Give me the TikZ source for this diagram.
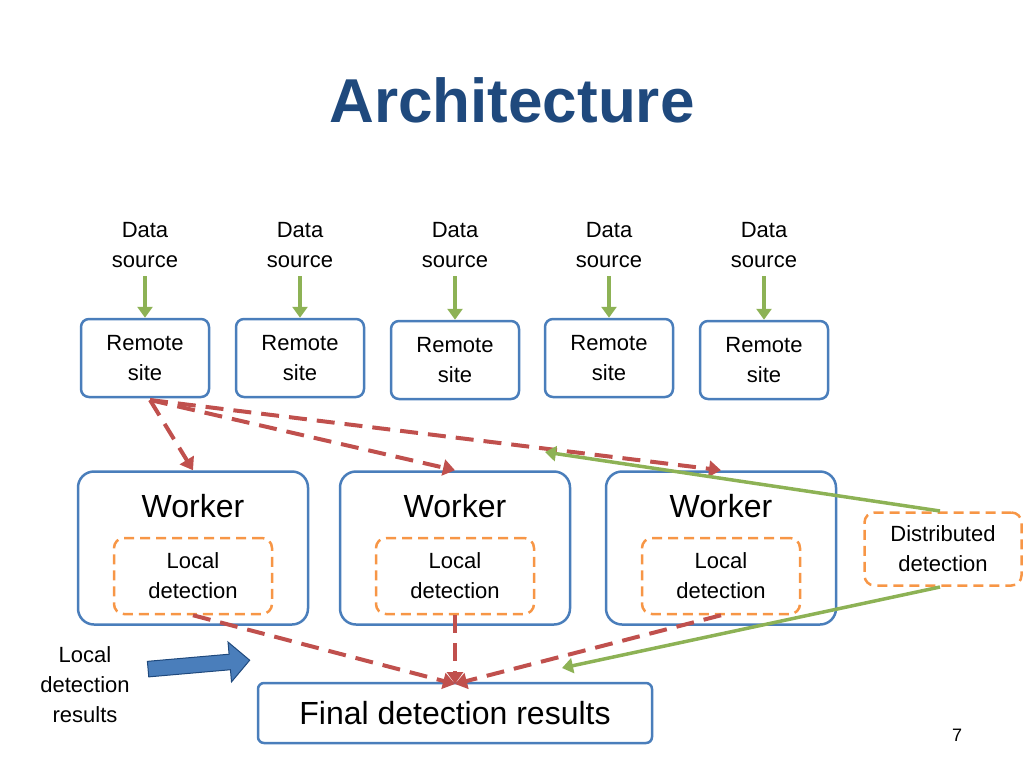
\documentclass[tikz,border=0pt]{standalone}
\usepackage{fontspec}
\setmainfont{Liberation Sans}
\usetikzlibrary{shapes.arrows,arrows.meta}
\definecolor{titleblue}{HTML}{1F497D}
\definecolor{boxblue}{HTML}{4A7EBB}
\definecolor{dashorange}{HTML}{F79646}
\definecolor{arrgreen}{HTML}{8DB255}
\definecolor{arrred}{HTML}{C0504D}
\tikzset{
  site/.style={draw=boxblue,line width=2.5pt,rounded corners=8pt,minimum width=128pt,minimum height=78pt,align=center,font=\fontsize{22}{30}\selectfont},
  worker/.style={draw=boxblue,line width=2.5pt,rounded corners=16pt,minimum width=230pt,minimum height=153pt},
  local/.style={draw=dashorange,line width=2.5pt,dash pattern=on 10pt off 6pt,rounded corners=10pt,minimum width=158pt,minimum height=76pt,align=center,font=\fontsize{22}{30}\selectfont},
  txt/.style={align=center,font=\fontsize{22}{30}\selectfont},
  feed/.style={arrgreen,line width=3.5pt,-{Triangle[length=11pt,width=15pt]}},
  send/.style={arrred,line width=4pt,dash pattern=on 18pt off 10pt,-{Triangle[length=12pt,width=16pt]}}
}
\begin{document}
\begin{tikzpicture}[x=1pt,y=-1pt]
\useasboundingbox (0,0) rectangle (1024,768);

\node[font=\fontsize{62}{66}\selectfont\bfseries,text=titleblue] (title) at (512,100) {Architecture};

% data sources and remote sites
\foreach \i/\x/\y in {1/145/358,2/300/358,3/455/360,4/609/358,5/764/360}{
  \node[txt] (ds\i) at (\x,245) {Data\\source};
  \node[site] (rs\i) at (\x,\y) {Remote\\site};
  \coordinate (in\i) at (\x,276);
  \draw[feed] (in\i) -- (rs\i.north);
}

% workers
\node[worker] (w1) at (193,548) {};
\node[worker] (w2) at (455,548) {};
\node[worker] (w3) at (721,548) {};
\foreach \i in {1,2,3}{
  \node[font=\fontsize{32}{36}\selectfont] (wl\i) at ([yshift=42pt]w\i.center) {Worker};
  \node[local] (ld\i) at ([yshift=-28pt]w\i.center) {Local\\detection};
}

\node[local,minimum width=157pt,minimum height=73pt] (dd) at (943,549) {Distributed\\detection};

\node[draw=boxblue,line width=2.5pt,rounded corners=6pt,minimum width=394pt,minimum height=60pt,font=\fontsize{32}{36}\selectfont] (final) at (455,713) {Final detection results};

\node[txt,font=\fontsize{22}{30}\selectfont] (lres) at (85,685) {Local\\detection\\results};
\node[single arrow,draw=titleblue,fill=boxblue,line width=1pt,minimum height=102pt,minimum width=40pt,single arrow head extend=6pt,rotate=5] (barrow) at (195,665) {};

% remote site to workers
\coordinate (src) at (150,400);
\draw[send] (src) -- (w1.north);
\draw[send] (src) -- (w2.north);
\draw[send] (src) -- (w3.north);

% local detection to final
\coordinate (fin) at (455,684);
\draw[send] (ld1.south) -- (fin);
\draw[send] (ld2.south) -- (fin);
\draw[send] (ld3.south) -- (fin);

% distributed detection
\coordinate (dtop) at (940,511);
\coordinate (dbot) at (940,587);
\coordinate (wtop) at (545,452);
\coordinate (fend) at (562,668);
\draw[feed] (dtop) -- (wtop);
\draw[feed] (dbot) -- (fend);

\node[font=\fontsize{18}{20}\selectfont] (page) at (957,735) {7};
\end{tikzpicture}
\end{document}
